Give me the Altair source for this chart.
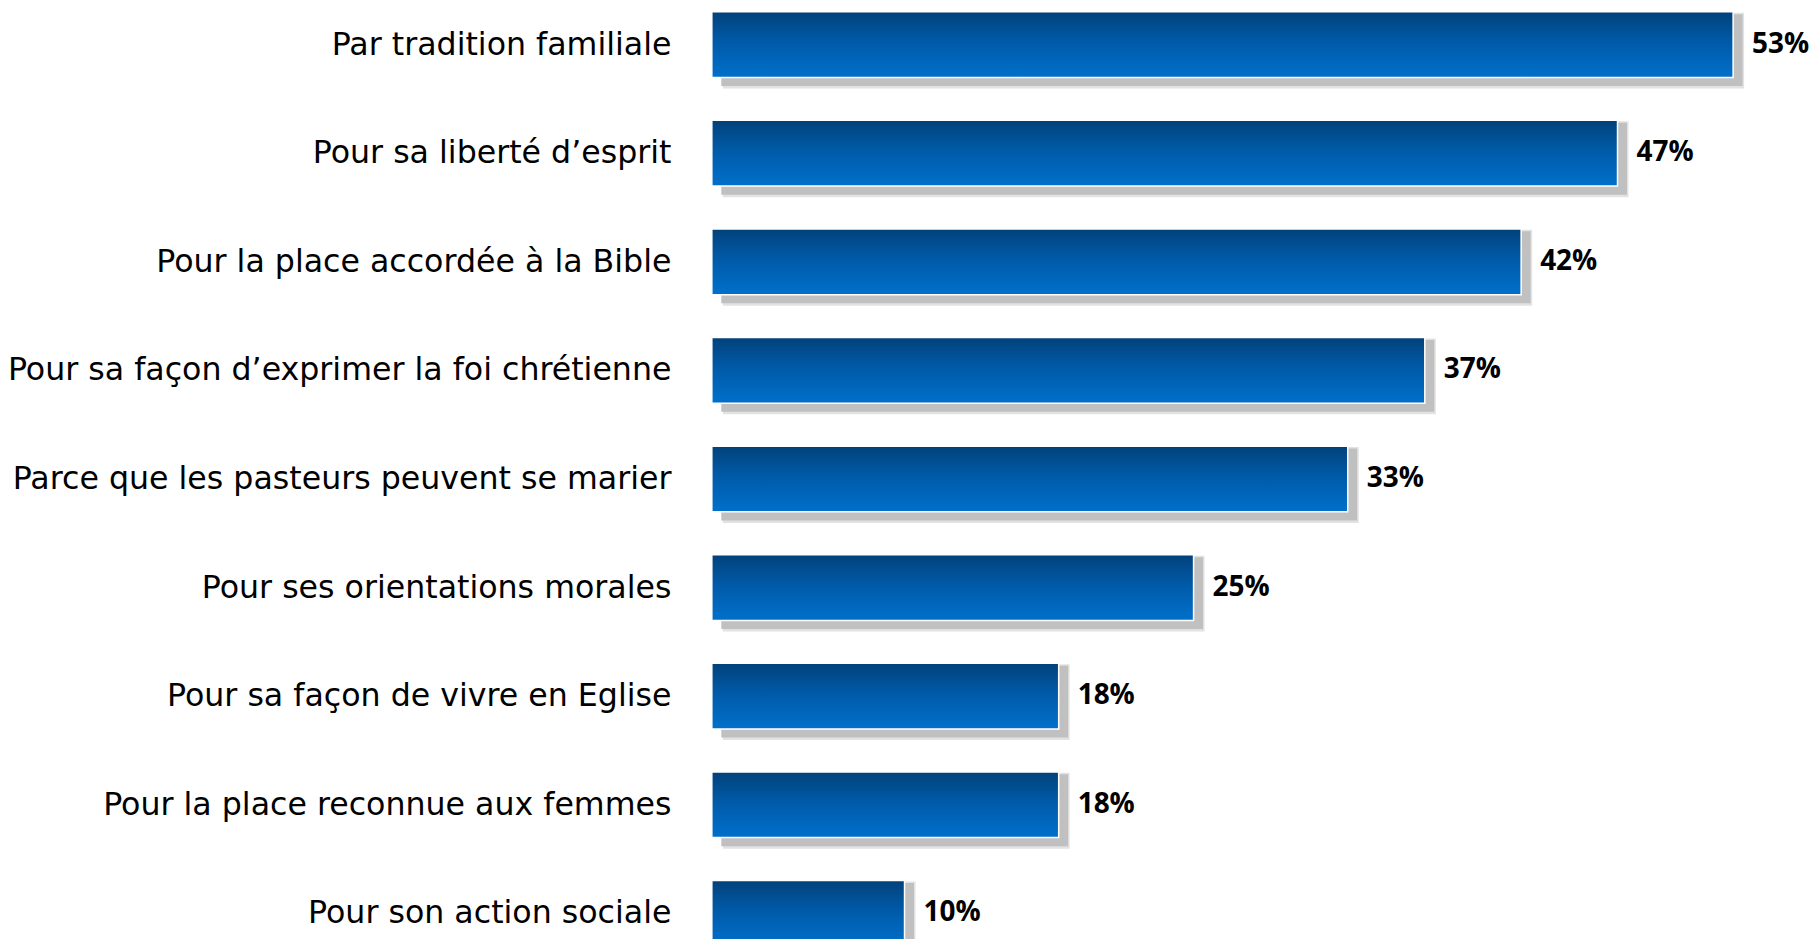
import altair as alt
import pandas as pd

categories = [
    "Par tradition familiale",
    "Pour sa liberté d’esprit",
    "Pour la place accordée à la Bible",
    "Pour sa façon d’exprimer la foi chrétienne",
    "Parce que les pasteurs peuvent se marier",
    "Pour ses orientations morales",
    "Pour sa façon de vivre en Eglise",
    "Pour la place reconnue aux femmes",
    "Pour son action sociale",
]
values = [53, 47, 42, 37, 33, 25, 18, 18, 10]
value_labels = ["53%", "47%", "42%", "37%", "33%", "25%", "18%", "18%", "10%"]

df = pd.DataFrame({"cat": categories, "val": values, "lab": value_labels})

LABEL_FONT = "DejaVu Sans"
VALUE_FONT = "Open Sans"

y_enc = alt.Y(
    "cat:N",
    sort=categories,
    title=None,
    scale=alt.Scale(range=[3, 939], paddingInner=0.395, paddingOuter=0),
    axis=alt.Axis(
        domain=False, ticks=False, labelPadding=41, labelFont=LABEL_FONT,
        labelFontSize=31.7, labelColor="black", labelLimit=0,
    ),
)
x_enc = alt.X("val:Q", title=None, scale=alt.Scale(domain=[0, 53], nice=False), axis=None)

base = alt.Chart(df).encode(y=y_enc, x=x_enc)

shadow_outer = base.mark_bar(color="#e2e2e2", size=76, yOffset=6, xOffset=11, x2Offset=2)
shadow = base.mark_bar(color="#c0c0c0", size=72, yOffset=5.5, xOffset=9.5, x2Offset=3)

grad = alt.Gradient(
    gradient="linear",
    stops=[
        alt.GradientStop(color="#02417a", offset=0),
        alt.GradientStop(color="#005aa8", offset=0.45),
        alt.GradientStop(color="#0070cb", offset=1),
    ],
    x1=0, x2=0, y1=0, y2=1,
)
bars = base.mark_bar(color=grad, stroke="white", strokeWidth=1.5)

text = base.mark_text(
    align="left", baseline="middle", dx=19, font=VALUE_FONT, fontSize=28,
    fontWeight="bold", color="black",
).encode(text="lab:N")

chart = alt.layer(shadow_outer, shadow, bars, text).properties(
    width=1023,
    height=931,
    autosize=alt.AutoSizeParams(type="none"),
    padding={"left": 705, "top": 0, "right": 76, "bottom": 0},
).configure_view(stroke=None)

chart.save("out.html", embed_options={"renderer": "svg", "actions": False})
